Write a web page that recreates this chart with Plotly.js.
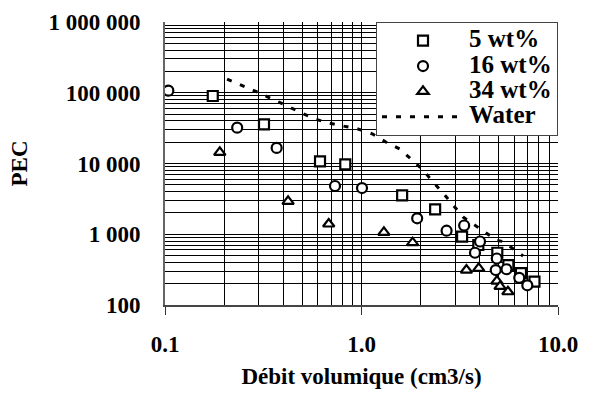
<!DOCTYPE html>
<html>
<head>
<meta charset="utf-8">
<script src="https://cdn.plot.ly/plotly-3.0.1.min.js"></script>
<style>html,body{margin:0;padding:0;background:#fff;}#chart{width:591px;height:394px;}</style>
</head>
<body>
<div id="chart"></div>
<script>
// 5 wt%
const x5 = [0.175, 0.319, 0.615, 0.827, 1.61, 2.37, 3.25, 3.93, 4.91, 5.59, 6.48, 7.59];
const y5 = [90000, 35800, 10700, 9750, 3550, 2250, 924, 705, 548, 367, 283, 214];
// 16 wt%
const x16 = [0.104, 0.233, 0.370, 0.733, 1.006, 1.92, 2.71, 3.33, 4.01, 3.78, 4.88, 4.82, 5.47, 6.35, 6.98];
const y16 = [107000, 32100, 16600, 4810, 4500, 1680, 1122, 1330, 790, 548, 454, 312, 320, 242, 190];
// 34 wt%
const x34 = [0.190, 0.423, 0.681, 1.30, 1.82, 3.42, 3.95, 4.89, 5.07, 5.56];
const y34 = [14400, 2920, 1395, 1065, 760, 312, 330, 218, 183, 154];
// Water
const xW = [0.207, 0.294, 0.408, 0.567, 0.676, 0.805, 0.96, 1.14, 1.33, 1.57, 1.81, 2.06, 2.31, 2.60, 2.92, 3.29, 4.89, 5.25, 6.64];
const yW = [156000, 102500, 67100, 43500, 37400, 33900, 30700, 26100, 20100, 16000, 11200, 8090, 5480, 3830, 2590, 1750, 816, 790, 493];

const seriesNames = ['5 wt%', '16 wt%', '34 wt%', 'Water'];
const xTickVals = [0.1, 1, 10];
const xTickText = ['0.1', '1.0', '10.0'];
const yTickVals = [100, 1000, 10000, 100000, 1000000];
const yTickText = ['100', '1 000', '10 000', '100 000', '1 000 000'];

const FONT = 'Liberation Serif';
const lg = t => '<span style="font-family:Liberation Serif;font-size:25px">' + t + '</span>';
const mk = sym => ({symbol: sym, size: 10, color: '#fff', line: {color: '#000', width: 2.2}});

const data = [
  {x: xW, y: yW, name: lg(seriesNames[3]), mode: 'lines', type: 'scatter', legendrank: 4,
   line: {color: '#000', width: 3, dash: '5px,9px'}},
  {x: x5, y: y5, name: lg(seriesNames[0]), mode: 'markers', type: 'scatter', legendrank: 1, marker: mk('square')},
  {x: x16, y: y16, name: lg(seriesNames[1]), mode: 'markers', type: 'scatter', legendrank: 2, marker: mk('circle')},
  {x: x34, y: y34, name: lg(seriesNames[2]), mode: 'markers', type: 'scatter', legendrank: 3, marker: mk('triangle-up')}
];

const layout = {
  width: 591, height: 394,
  margin: {l: 165, r: 33, t: 22, b: 89},
  paper_bgcolor: '#fff', plot_bgcolor: '#fff',
  font: {family: FONT, size: 23, color: '#000', weight: 'bold'},
  showlegend: true,
  legend: {x: 1, xanchor: 'right', y: 1, yanchor: 'top', bgcolor: '#fff',
           bordercolor: '#444', borderwidth: 1, itemwidth: 82, tracegroupgap: 0,
           font: {family: FONT, size: 17.2, weight: 'bold', color: '#000'}},
  xaxis: {type: 'log', range: [-1, 1], tickmode: 'array', tickvals: xTickVals, ticktext: xTickText,
          ticks: 'outside', ticklen: 8, tickwidth: 1, tickcolor: '#333',
          showgrid: true, gridcolor: '#000', gridwidth: 1,
          minor: {dtick: 'D1', showgrid: true, gridcolor: '#000', gridwidth: 1, ticks: ''},
          showline: true, linecolor: '#444', linewidth: 2, zeroline: false,
          ticklabelstandoff: 9,
          tickfont: {family: FONT, size: 23, weight: 'bold'},
          title: {text: 'Débit volumique (cm3/s)', font: {family: FONT, size: 23, weight: 'bold'}, standoff: 12},
          automargin: false},
  yaxis: {type: 'log', range: [2, 6], tickmode: 'array', tickvals: yTickVals, ticktext: yTickText,
          ticks: '', showgrid: true, gridcolor: '#000', gridwidth: 1,
          minor: {dtick: 'D1', showgrid: true, gridcolor: '#000', gridwidth: 1, ticks: ''},
          showline: true, linecolor: '#666', linewidth: 2, zeroline: false,
          ticklabelstandoff: 18,
          tickfont: {family: FONT, size: 23, weight: 'bold'},
          title: {text: 'PEC', font: {family: FONT, size: 23, weight: 'bold'}, standoff: 14},
          automargin: false}
};

Plotly.newPlot('chart', data, layout, {staticPlot: true, displayModeBar: false});
</script>
</body>
</html>
